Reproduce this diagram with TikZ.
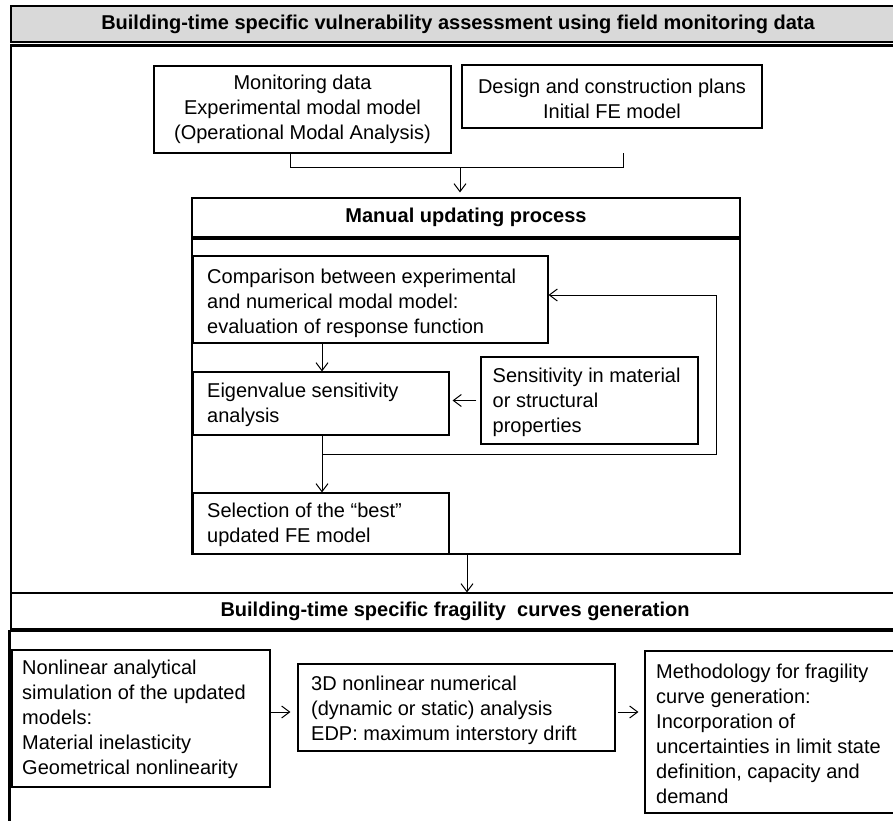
\documentclass[tikz,border=0pt]{standalone}
\usepackage{fontspec}
\setmainfont{Liberation Sans}
\usetikzlibrary{arrows.meta}
\definecolor{hdrgray}{RGB}{217,217,217}
\begin{document}
\begin{tikzpicture}[x=1pt,y=-1pt,
  thinbox/.style={draw=black, line width=1.1pt, inner sep=0pt, rectangle},
  framebox/.style={draw=black, line width=2.4pt, inner sep=0pt, rectangle},
  frameline/.style={draw=black, line width=2.4pt},
  body/.style={font=\fontsize{20}{25}\selectfont, inner sep=0pt, align=left},
  bodyc/.style={font=\fontsize{20}{25}\selectfont, inner sep=0pt, align=center},
  headtxt/.style={font=\bfseries\fontsize{20}{24}\selectfont, inner sep=0pt},
  conn/.style={draw=black, line width=1pt},
  arr/.style={conn, -{Straight Barb[length=8pt,width=12pt]}}
]
\useasboundingbox (0,0) rectangle (893,820);
\clip (0,0) rectangle (893,820);

% header
\node[thinbox, fill=hdrgray, minimum width=900pt, minimum height=36pt] (hdr) at (461,24) {};
\node[headtxt] (hdrt) at (458,24) {Building-time specific vulnerability assessment using field monitoring data};

% frame 1
\coordinate (f1a) at (950,45.5);
\coordinate (f1b) at (11,45.5);
\coordinate (f1c) at (11,631);
\draw[frameline] (f1a) -- (f1b) -- (f1c);

% top boxes
\node[thinbox, minimum width=297pt, minimum height=87pt] (mon) at (302.5,109.5) {};
\node[bodyc] (mont) at (302.5,109.5) {Monitoring data\\Experimental modal model\\(Operational Modal Analysis)};
\node[thinbox, minimum width=300pt, minimum height=63pt] (des) at (612,96.5) {};
\node[bodyc] (dest) at (612,98.5) {Design and construction plans\\Initial FE model};

% manual updating
\node[thinbox, minimum width=548pt, minimum height=39pt, font=\bfseries\fontsize{20}{24}\selectfont] (manual) at (466,217.5) {Manual updating process};
\node[framebox, minimum width=548pt, minimum height=315pt] (inner) at (466,396.5) {};

% bracket
\coordinate (brL) at (290,167);
\coordinate (brR) at (623,167);
\coordinate (brM) at (460,167);
\coordinate (brRt) at (623,153);
\draw[conn] (mon.south -| brL) -- (brL) -- (brR) -- (brRt);
\draw[arr, shorten >=5pt] (brM) -- (manual.north -| brM);

% inner boxes
\node[thinbox, minimum width=354.5pt, minimum height=87pt] (comp) at (370.75,299.5) {};
\node[body, anchor=west] (compt) at (207,303) {Comparison between experimental\\and numerical modal model:\\evaluation of response function};
\node[thinbox, minimum width=255.5pt, minimum height=63pt] (eig) at (321.25,403.5) {};
\node[body, anchor=west] (eigt) at (207,404.5) {Eigenvalue sensitivity\\analysis};
\node[thinbox, minimum width=217pt, minimum height=87pt] (sens) at (589.5,400.5) {};
\node[body, anchor=west] (senst) at (492.5,402) {Sensitivity in material\\or structural\\properties};
\node[thinbox, minimum width=255.5pt, minimum height=61pt] (sel) at (321.25,523.5) {};
\node[body, anchor=west] (selt) at (207,524.5) {Selection of the “best”\\updated FE model};

% inner connectors
\coordinate (c1) at (322,0);
\draw[arr] (comp.south -| c1) -- (eig.north -| c1);
\draw[arr] (eig.south -| c1) -- (sel.north -| c1);
\draw[arr, shorten <=4pt, shorten >=3pt] (sens.west) -- (sens.west -| eig.east);
\coordinate (fb1) at (322,454);
\coordinate (fb2) at (716,454);
\coordinate (fb3) at (716,295);
\draw[arr] (fb1) -- (fb2) -- (fb3) -- (comp.east |- fb3);

% section 2
\node[thinbox, minimum width=900pt, minimum height=36pt] (sec2) at (461,611) {};
\node[headtxt] (sec2t) at (455,611) {Building-time specific fragility\ \ curves generation};
\coordinate (c2) at (467,0);
\draw[arr] (inner.south -| c2) -- (sec2.north -| c2);

% frame 2
\coordinate (f2a) at (950,631);
\coordinate (f2b) at (9.5,631);
\coordinate (f2c) at (9.5,850);
\draw[frameline] (f2a) -- (f2b) -- (f2c);

% bottom boxes
\node[thinbox, minimum width=258pt, minimum height=137pt] (nl) at (141,718.5) {};
\node[body, anchor=west] (nlt) at (22,719) {Nonlinear analytical\\simulation of the updated\\models:\\Material inelasticity\\Geometrical nonlinearity};
\node[thinbox, minimum width=317pt, minimum height=87pt] (d3) at (456.5,707.5) {};
\node[body, anchor=west] (d3t) at (311,710) {3D nonlinear numerical\\(dynamic or static) analysis\\EDP: maximum interstory drift};
\node[thinbox, minimum width=260pt, minimum height=162pt] (meth) at (775,732) {};
\node[body, anchor=west] (metht) at (656,733.5) {Methodology for fragility\\curve generation:\\Incorporation of\\uncertainties in limit state\\definition, capacity and\\demand};

\coordinate (ay) at (0,712);
\draw[arr, shorten >=7pt] (nl.east |- ay) -- (d3.west |- ay);
\draw[arr, shorten <=2pt, shorten >=6pt] (d3.east |- ay) -- (meth.west |- ay);
\end{tikzpicture}
\end{document}
